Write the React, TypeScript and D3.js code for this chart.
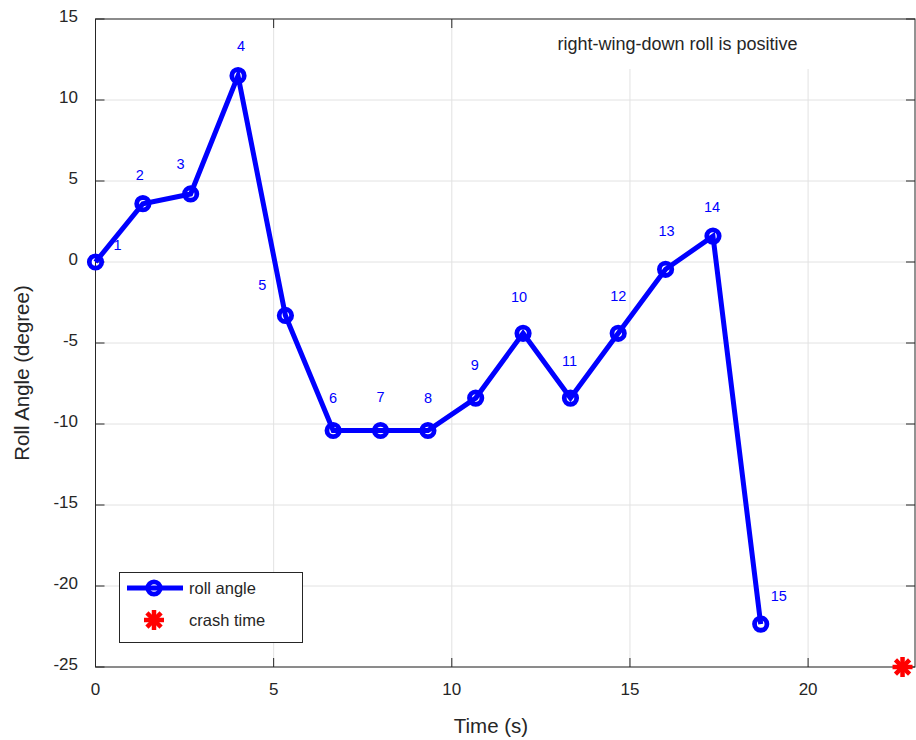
import React from 'react';
import * as d3 from 'd3';

// roll angle samples
const times = [0, 1.33, 2.67, 4.0, 5.33, 6.67, 8.0, 9.33, 10.67, 12.0, 13.33, 14.67, 16.0, 17.33, 18.67];
const roll = [0, 3.6, 4.2, 11.5, -3.3, -10.4, -10.4, -10.4, -8.4, -4.4, -8.4, -4.4, -0.45, 1.6, -22.35];
const pointLabels = ['1', '2', '3', '4', '5', '6', '7', '8', '9', '10', '11', '12', '13', '14', '15'];
const crashTime = [22.65];
const crashValue = [-25];
const xTicks = [0, 5, 10, 15, 20];
const yTicks = [-25, -20, -15, -10, -5, 0, 5, 10, 15];
const legendNames = ['roll angle', 'crash time'];

// pixel nudges for the point number labels
const labelOffsets: [number, number][] = [
  [22, -17], [-3, -29], [-10, -30], [3, -30], [-23, -30], [0, -32], [0, -33], [0, -32],
  [-1, -33], [-4, -36], [-1, -37], [0, -37], [1, -38], [-1, -29], [18, -28],
];

const W = 916;
const H = 740;
const left = 95.5;
const right = 915;
const top = 19;
const bottom = 667;
const font = '"Liberation Sans", Arial, sans-serif';
const ink = '#262626';
const gridColor = '#e2e2e2';
const blue = '#0000ff';
const red = '#ff0000';

function Asterisk({ x, y, r, w }: { x: number; y: number; r: number; w: number }) {
  const angles = [0, 45, 90, 135];
  return (
    <g>
      {angles.map((a) => {
        const rad = (a * Math.PI) / 180;
        const dx = Math.cos(rad) * r;
        const dy = Math.sin(rad) * r;
        return (
          <line key={a} x1={x - dx} y1={y - dy} x2={x + dx} y2={y + dy}
            stroke={red} strokeWidth={w} />
        );
      })}
    </g>
  );
}

export default function App() {
  const x = d3.scaleLinear().domain([0, 23]).range([left, right]);
  const y = d3.scaleLinear().domain([-25, 15]).range([bottom, top]);

  const line = d3
    .line<number>()
    .x((_, i) => x(times[i]))
    .y((d) => y(d));

  const tick = 9;

  return (
    <svg width={W} height={H} style={{ position: 'absolute', left: 0, top: 0, background: '#fff' }}
      fontFamily={font}>
      {/* grid */}
      {xTicks.map((t) => (
        <line key={'gx' + t} x1={x(t)} x2={x(t)} y1={top} y2={bottom} stroke={gridColor} strokeWidth={1} />
      ))}
      {yTicks.map((t) => (
        <line key={'gy' + t} x1={left} x2={right} y1={y(t)} y2={y(t)} stroke={gridColor} strokeWidth={1} />
      ))}

      {/* annotation background */}
      <rect x={550} y={top + 1} width={343} height={49} fill="#fff" />
      <text x={677.5} y={50} textAnchor="middle" fontSize={18} fill={ink}>
        right-wing-down roll is positive
      </text>

      {/* frame + ticks */}
      <rect x={left} y={top} width={right - left} height={bottom - top} fill="none" stroke={ink} strokeWidth={1} />
      {xTicks.map((t) => (
        <g key={'tx' + t}>
          <line x1={x(t)} x2={x(t)} y1={bottom} y2={bottom - tick} stroke={ink} />
          {x(t) < 550 && <line x1={x(t)} x2={x(t)} y1={top} y2={top + tick} stroke={ink} />}
          <text x={x(t)} y={689} textAnchor="middle" dominantBaseline="central" fontSize={17} fill={ink}>
            {t}
          </text>
        </g>
      ))}
      {yTicks.map((t) => (
        <g key={'ty' + t}>
          <line x1={left} x2={left + tick} y1={y(t)} y2={y(t)} stroke={ink} />
          <line x1={right} x2={right - tick} y1={y(t)} y2={y(t)} stroke={ink} />
          <text x={78} y={y(t) - 3} textAnchor="end" dominantBaseline="central" fontSize={17} fill={ink}>
            {t}
          </text>
        </g>
      ))}

      {/* axis labels */}
      <text x={491} y={733} textAnchor="middle" fontSize={20.5} fill={ink}>Time (s)</text>
      <text transform="translate(29,373) rotate(-90)" textAnchor="middle" fontSize={20.5} fill={ink}>
        Roll Angle (degree)
      </text>

      {/* roll angle series */}
      <path d={line(roll) || ''} fill="none" stroke={blue} strokeWidth={5} strokeLinejoin="miter" />
      {roll.map((v, i) => (
        <circle key={'m' + i} cx={x(times[i])} cy={y(v)} r={6.2} fill="none" stroke={blue} strokeWidth={4.8} />
      ))}
      {roll.map((v, i) => (
        <text key={'l' + i} x={x(times[i]) + labelOffsets[i][0]} y={y(v) + labelOffsets[i][1]}
          textAnchor="middle" dominantBaseline="central" fontSize={14.5} fill={blue}>
          {pointLabels[i]}
        </text>
      ))}

      {/* crash marker */}
      {crashTime.map((t, i) => (
        <Asterisk key={'c' + i} x={x(t)} y={y(crashValue[i])} r={10} w={4.5} />
      ))}

      {/* legend */}
      <rect x={119.5} y={572.5} width={183} height={70} fill="#fff" stroke={ink} strokeWidth={1} />
      <line x1={127} x2={183} y1={588} y2={588} stroke={blue} strokeWidth={5} />
      <circle cx={154} cy={588} r={6.2} fill="none" stroke={blue} strokeWidth={4.8} />
      <text x={189} y={588} dominantBaseline="central" fontSize={16.5} fill={ink}>{legendNames[0]}</text>
      <Asterisk x={154} y={620} r={10} w={4.5} />
      <text x={189} y={620} dominantBaseline="central" fontSize={16.5} fill={ink}>{legendNames[1]}</text>
    </svg>
  );
}
